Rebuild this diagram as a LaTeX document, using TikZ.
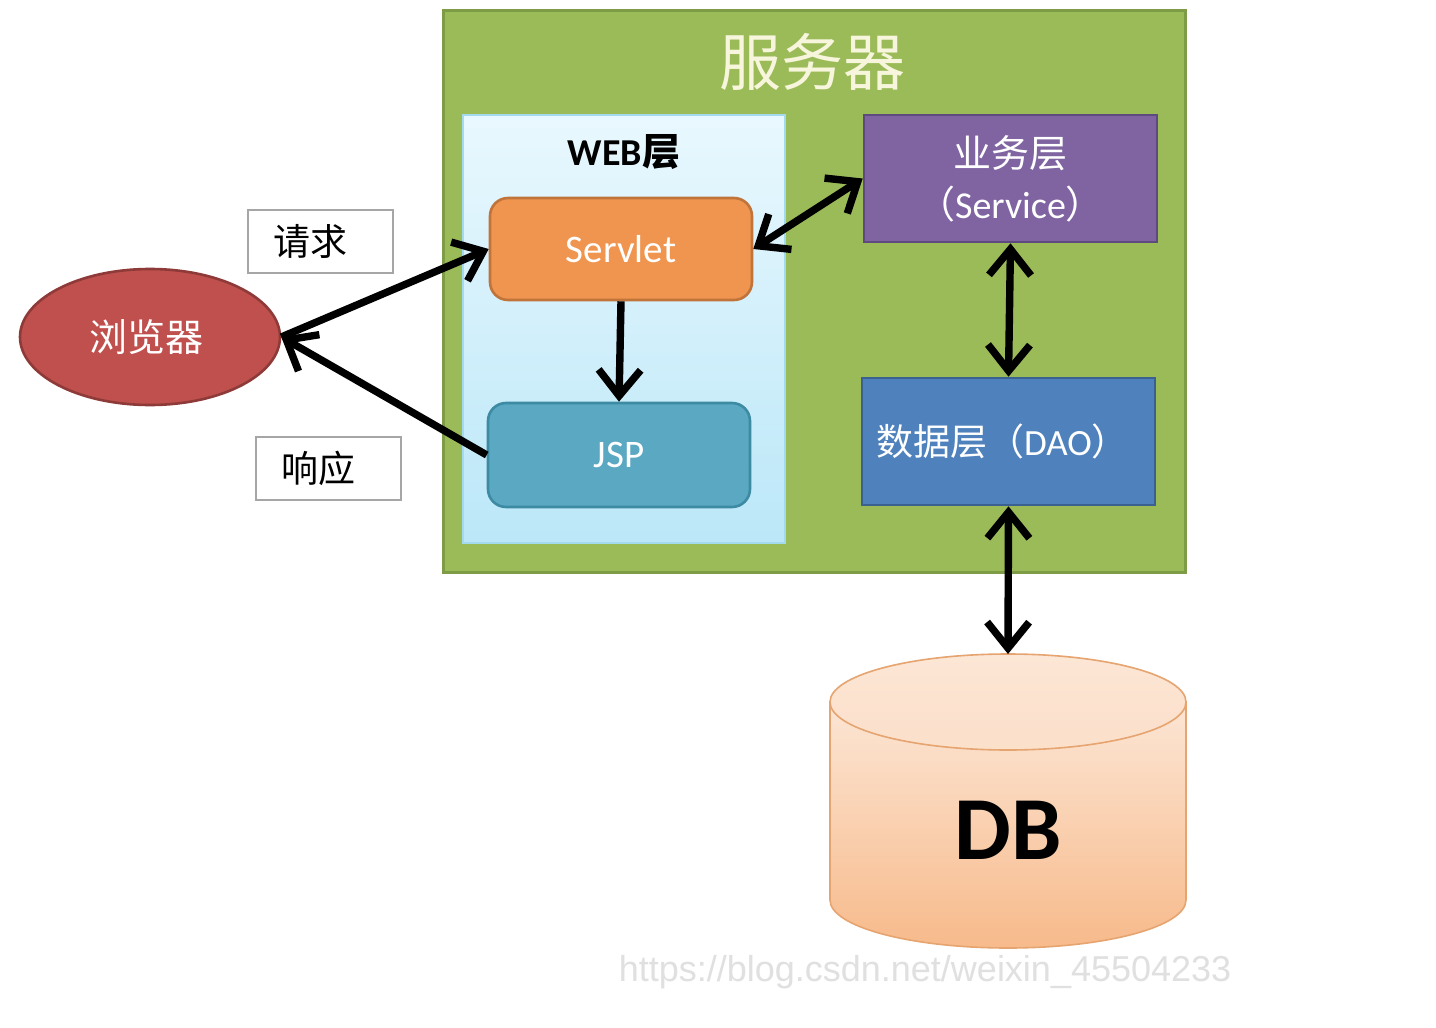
\documentclass[tikz,border=0pt]{standalone}
\usepackage{fontspec}
\setmainfont{Noto Sans CJK SC}
\newfontfamily\lat{Carlito}
\newfontfamily\wmfont{Liberation Sans}
\usetikzlibrary{arrows.meta,shapes.geometric}
\definecolor{srvfill}{HTML}{9BBB59}
\definecolor{srvline}{HTML}{7E9B45}
\definecolor{titlecol}{HTML}{F7F6DC}
\definecolor{webtop}{HTML}{E9F8FE}
\definecolor{webbot}{HTML}{BBE7F8}
\definecolor{webline}{HTML}{A3DAEE}
\definecolor{orfill}{HTML}{EF9550}
\definecolor{orline}{HTML}{C0743A}
\definecolor{aqfill}{HTML}{5BA8C3}
\definecolor{aqline}{HTML}{3D8AA3}
\definecolor{pufill}{HTML}{8064A2}
\definecolor{puline}{HTML}{5E4A7E}
\definecolor{blfill}{HTML}{4F81BD}
\definecolor{blline}{HTML}{3A6190}
\definecolor{rdfill}{HTML}{C0504D}
\definecolor{rdline}{HTML}{8E3A38}
\definecolor{dbtop}{HTML}{FCE6D5}
\definecolor{dbbot}{HTML}{F7BA8B}
\definecolor{dbline}{HTML}{E6A470}
\begin{document}
\begin{tikzpicture}[x=0.5pt,y=-0.5pt,
  fs/.style={font=\fontsize{#1}{#1}\selectfont},
  box/.style={draw, line width=1.3pt, inner sep=0pt, text=white},
  lbl/.style={draw=black!35, line width=0.8pt, fill=white, minimum width=72.5pt, minimum height=31.5pt, inner sep=0pt, fs=18.5pt},
  tip/.style={Straight Barb[length=13pt,width=21pt]},
  arr/.style={line width=3.7pt, -{Straight Barb[length=13pt,width=21pt]}},
  darr/.style={line width=3.7pt, {Straight Barb[length=13pt,width=21pt]}-{Straight Barb[length=13pt,width=21pt]}}
]
\useasboundingbox (0,0) rectangle (1436,1028);
\fill[white] (0,0) rectangle (1436,1028);

% server
\node[draw=srvline, fill=srvfill, line width=1.5pt, minimum width=371pt, minimum height=281pt, inner sep=0pt] (server) at (814,291) {};
\node[text=titlecol, fs=31pt] (title) at (812,62) {服务器};

% web layer
\node[draw=webline, line width=1pt, top color=webtop, bottom color=webbot, minimum width=161pt, minimum height=214pt, inner sep=0pt] (web) at (624,329) {};
\node[font=\bfseries\fontsize{19pt}{19pt}\selectfont] (webt) at (624,152) {{\lat\bfseries WEB}层};

\node[box, draw=orline, fill=orfill, rounded corners=9pt, minimum width=131pt, minimum height=51pt, fs=19.5pt] (servlet) at (621,249) {\lat Servlet};
\node[box, draw=aqline, fill=aqfill, rounded corners=9pt, minimum width=131pt, minimum height=52pt, fs=19.5pt] (jsp) at (619,455) {\lat JSP};

\node[box, draw=puline, fill=pufill, minimum width=146.5pt, minimum height=63.5pt, align=center, font=\fontsize{19pt}{25.5pt}\selectfont] (service) at (1010.5,178.5) {业务层\\（{\lat Service}）};
\node[box, draw=blline, fill=blfill, minimum width=146.5pt, minimum height=63.5pt, fs=18.5pt] (dao) at (1008.5,441.5) {\hspace*{-6pt}数据层（{\lat DAO}）};

% browser
\node[ellipse, box, draw=rdline, fill=rdfill, minimum width=130pt, minimum height=68pt, fs=19pt] (browser) at (150,337) {浏览器\hspace*{3pt}};

\node[lbl] (req) at (320.5,241.5) {请求\hspace*{10pt}};
\node[lbl] (resp) at (328.5,468.5) {响应\hspace*{10pt}};

% DB cylinder
\shade[top color=dbtop, bottom color=dbbot, draw=dbline, line width=0.8pt]
  (830,702) -- (830,900) arc[start angle=180, end angle=360, x radius=89pt, y radius=24pt] -- (1186,702) -- cycle;
\shade[top color=dbtop, bottom color=dbtop!85!dbbot, draw=dbline, line width=0.8pt]
  (1008,702) ellipse [x radius=89pt, y radius=24pt];
\coordinate (dbtopc) at (1008,654);
\node[font=\bfseries\fontsize{45pt}{45pt}\selectfont] (db) at (1008,830) {\lat\bfseries DB};

% connectors
\draw[arr] (browser.east) -- (servlet.west);
\draw[arr] (jsp.west) -- (browser.east);
\draw[darr] (servlet.east) -- (service.west);
\draw[arr] (servlet.south) -- (jsp.north);
\draw[darr] (service.south) -- (dao.north);
\draw[darr] (dao.south) -- (dbtopc);

% watermark
\node[text=black!12, font=\wmfont\fontsize{18pt}{18pt}\selectfont] (wm) at (925,972) {https://blog.csdn.net/weixin\_45504233};
\end{tikzpicture}
\end{document}
